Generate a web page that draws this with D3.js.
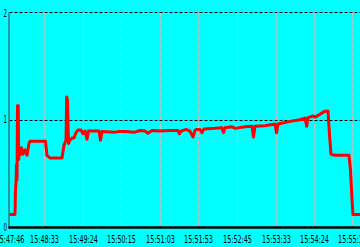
<!DOCTYPE html>
<html>
<head>
<meta charset="utf-8">
<script src="https://cdn.jsdelivr.net/npm/d3@7"></script>
<style>
  html, body { margin: 0; padding: 0; background: #00ffff; overflow: hidden; }
  svg { display: block; }
  text { font-family: "Liberation Sans Narrow", "DejaVu Sans Condensed", sans-serif; fill: #000; }
</style>
</head>
<body>
<svg width="360" height="247"></svg>
<script>
// sample position along the run and the measured load at that sample
const sampleIdx = [0, 5.5, 6, 6.5, 7, 7.5, 8, 8.7, 9.2, 10, 11, 12, 13.5, 15.5, 17.5, 19.5, 20.5,
  36, 37.5, 40.5, 52.5, 54.5, 56.5, 57.2, 58, 59, 60.5, 62.5, 64.5, 66.5, 68.5, 71.5, 73.5, 75.5,
  77.5, 79, 89.5, 91, 92.5, 105.5, 108.5, 115.5, 125.5, 130.5, 135.5, 138.5, 142.5, 150.5, 160.5,
  168.5, 170, 171.5, 176.5, 180.5, 183.5, 185.5, 186.5, 190.5, 192.5, 194.5, 205.5, 212.5, 214,
  215.5, 222.5, 225.5, 235.5, 242.5, 244, 245.5, 255.5, 265.5, 267, 268.5, 275.5, 280.5, 290.5,
  295.5, 297.2, 298.5, 303.5, 305.5, 310.5, 315.5, 318.5, 320, 321.5, 325.5, 339.5, 341, 342.5,
  343.5, 352.5];
const loadVal = [0.12, 0.12, 0.35, 0.42, 0.58, 0.44, 1.13, 1.13, 0.63, 0.72, 0.68, 0.74, 0.68, 0.72, 0.67, 0.78, 0.80,
  0.80, 0.67, 0.645, 0.645, 0.765, 0.81, 1.21, 1.18, 0.78, 0.81, 0.83, 0.83, 0.88, 0.905, 0.905, 0.87, 0.895,
  0.82, 0.895, 0.895, 0.81, 0.89, 0.885, 0.89, 0.89, 0.885, 0.90, 0.895, 0.875, 0.90, 0.895, 0.90,
  0.90, 0.87, 0.895, 0.91, 0.895, 0.84, 0.90, 0.91, 0.91, 0.88, 0.915, 0.92, 0.925, 0.88,
  0.925, 0.935, 0.92, 0.935, 0.94, 0.84, 0.94, 0.945, 0.96, 0.88, 0.96, 0.975, 0.985, 1.00,
  1.015, 0.94, 1.02, 1.035, 1.025, 1.05, 1.08, 1.08, 0.86, 0.68, 0.67, 0.67, 0.53, 0.26,
  0.12, 0.12];

const tickIdx = [0, 34.5, 73.5, 111.5, 150.5, 188.5, 227.5, 266.5, 304.5, 342.5];
const tickLabels = ['15:47:46', '15:48:33', '15:49:24', '15:50:15', '15:51:03', '15:51:53',
  '15:52:45', '15:53:33', '15:54:24', '15:55:12'];
const yTicks = [0, 1, 2];

const svg = d3.select('svg');
const W = 360, H = 247;
const padL = 9.5, padT = 12, baseY = 227.5;

const x = d3.scaleLinear().domain([0, 352.5]).range([padL, padL + 352.5]);
const y = d3.scaleLinear().domain([0, 2]).range([baseY, padT]);

// squeeze a label horizontally so it is `w` px wide
function squeeze(sel, w) {
  sel.each(function () {
    const t = d3.select(this);
    const len = this.getComputedTextLength();
    const cx = +t.attr('x'), cy = +t.attr('y');
    t.attr('transform', 'translate(' + cx + ',' + cy + ') scale(' + (w / len) + ',1) translate(' + (-cx) + ',' + (-cy) + ')');
  });
}

svg.append('rect').attr('width', W).attr('height', H).attr('fill', '#00ffff');

// vertical grid
svg.append('g')
  .selectAll('line')
  .data(tickIdx.slice(1))
  .enter()
  .append('line')
  .attr('x1', d => Math.round(x(d)) + 0.5).attr('x2', d => Math.round(x(d)) + 0.5)
  .attr('y1', padT).attr('y2', baseY)
  .attr('stroke', '#c4c4c4')
  .attr('stroke-width', 1)
  .attr('stroke-dasharray', '5,3');

// horizontal grid
svg.append('g')
  .selectAll('line')
  .data(yTicks.slice(1))
  .enter()
  .append('line')
  .attr('x1', padL).attr('x2', W)
  .attr('y1', d => Math.round(y(d)) + 0.5).attr('y2', d => Math.round(y(d)) + 0.5)
  .attr('stroke', '#000')
  .attr('stroke-width', 1)
  .attr('stroke-dasharray', '3,2');

// left axis
svg.append('line')
  .attr('x1', padL - 0.5).attr('x2', padL - 0.5)
  .attr('y1', padT).attr('y2', baseY + 1)
  .attr('stroke', '#1f9c9c')
  .attr('stroke-width', 2);

svg.append('g')
  .selectAll('text')
  .data(yTicks)
  .enter()
  .append('text')
  .attr('x', 7)
  .attr('y', d => Math.max(y(d) + 3.5, 17.5))
  .attr('text-anchor', 'end')
  .attr('font-size', 10.5)
  .text(d => d)
  .call(squeeze, 3.5);

// series
const line = d3.line()
  .x((d, i) => x(sampleIdx[i]))
  .y(d => y(d));

svg.append('path')
  .datum(loadVal)
  .attr('d', line)
  .attr('fill', 'none')
  .attr('stroke', '#ff0000')
  .attr('stroke-width', 3)
  .attr('stroke-linejoin', 'round');

// bottom axis
const xAxis = d3.axisBottom(x)
  .tickValues(tickIdx)
  .tickFormat((d, i) => tickLabels[i])
  .tickSize(0)
  .tickPadding(0);

const gx = svg.append('g')
  .attr('transform', 'translate(0,' + baseY + ')')
  .call(xAxis);
gx.select('.domain')
  .attr('d', 'M' + (padL - 1) + ',0H' + W)
  .attr('stroke', '#000')
  .attr('stroke-width', 2.5);
gx.selectAll('text')
  .attr('x', 0)
  .attr('y', 15.5)
  .attr('dy', 0)
  .attr('font-size', 11)
  .attr('font-family', '"Liberation Sans Narrow", "DejaVu Sans Condensed", sans-serif')
  .attr('fill', '#000')
  .call(squeeze, 29);
</script>
</body>
</html>
